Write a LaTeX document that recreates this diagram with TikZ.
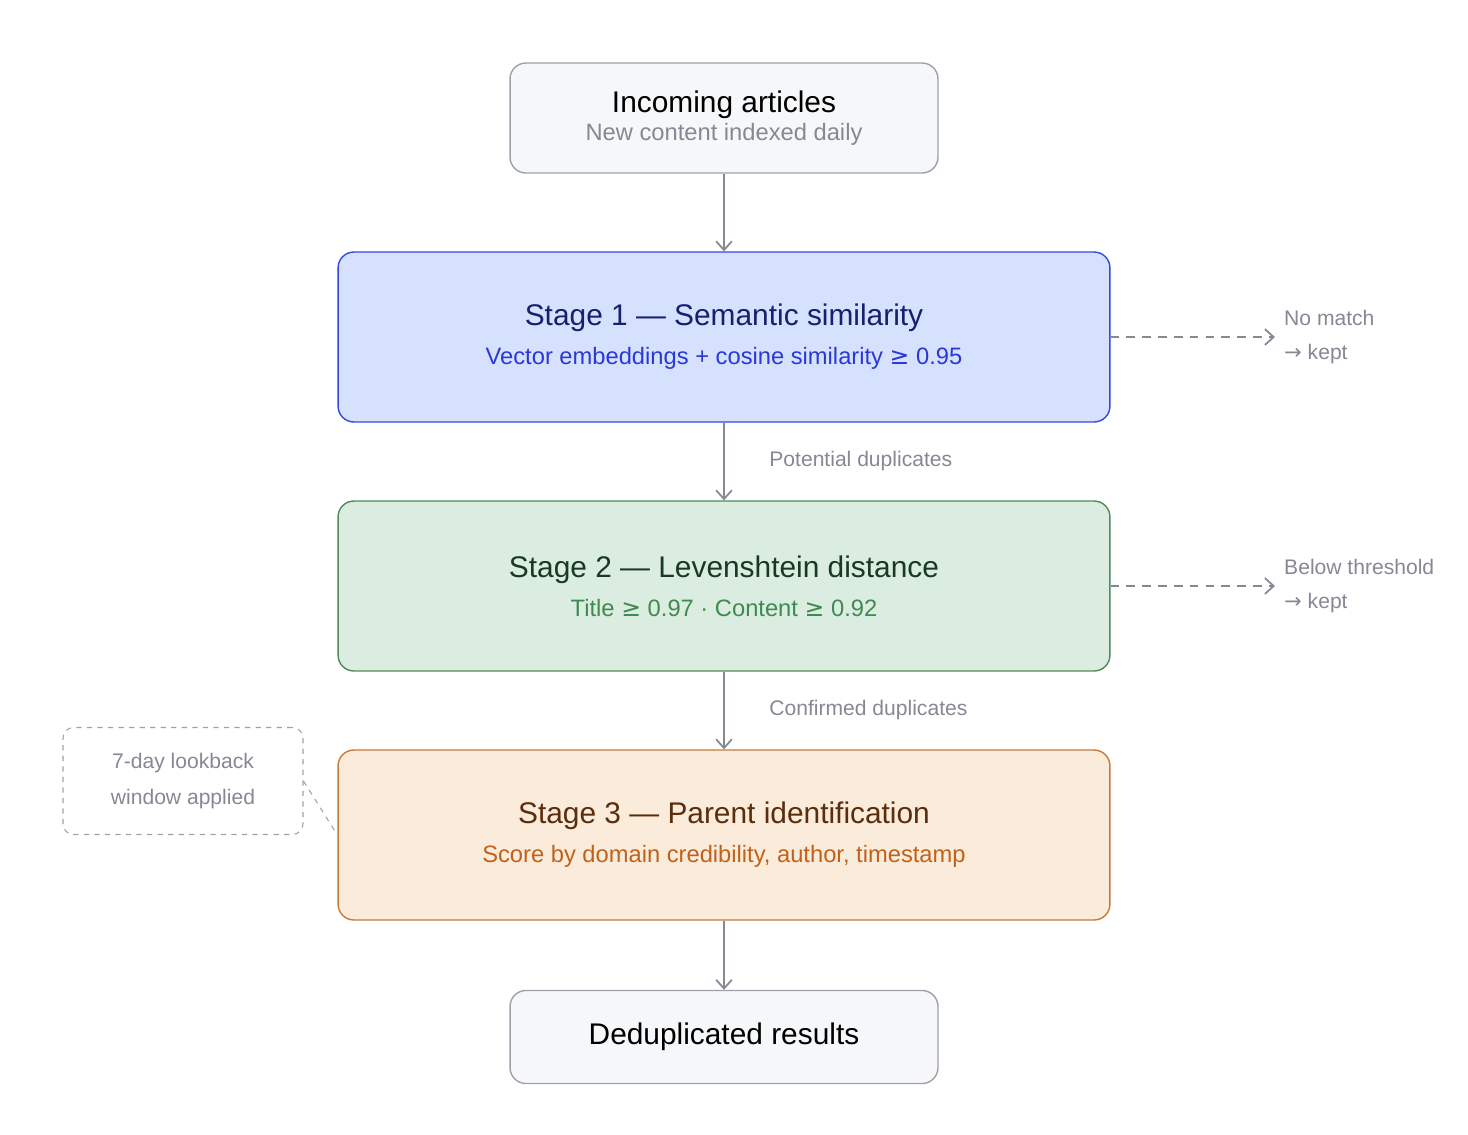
\documentclass[tikz,border=0pt]{standalone}
\usepackage{fontspec}
\setmainfont{Liberation Sans}
\newfontfamily\symfont{DejaVu Sans}
\usetikzlibrary{arrows.meta}
\newcommand{\gequ}{{\symfont ≥}}
\newcommand{\rarr}{{\symfont →}}

\definecolor{graybd}{HTML}{A0A0AA}
\definecolor{grayfill}{HTML}{F6F7F9}
\definecolor{graytxt}{HTML}{868894}
\definecolor{bluebd}{HTML}{3448E0}
\definecolor{bluefill}{HTML}{D6E2FD}
\definecolor{bluetitle}{HTML}{15206E}
\definecolor{bluetxt}{HTML}{2A38D8}
\definecolor{greenbd}{HTML}{4E8A5A}
\definecolor{greenfill}{HTML}{DAEDE0}
\definecolor{greentitle}{HTML}{193A22}
\definecolor{greentxt}{HTML}{3E8A50}
\definecolor{orangebd}{HTML}{C87A3C}
\definecolor{orangefill}{HTML}{FAEBDA}
\definecolor{orangetitle}{HTML}{5A2E0C}
\definecolor{orangetxt}{HTML}{C0621C}

\tikzset{
  box/.style={draw, rounded corners=9pt, line width=0.8pt, align=center},
  endbox/.style={box, draw=graybd, fill=grayfill, minimum width=8.56cm, minimum height=2.2cm},
  stage/.style={box, minimum width=15.44cm, minimum height=3.4cm},
  flow/.style={draw=graytxt, line width=1pt, -{Straight Barb[length=5pt,width=9pt]}},
  side/.style={flow, dashed, dash pattern=on 5pt off 4pt},
  lbl/.style={text=graytxt, font=\fontsize{12}{14}\selectfont, anchor=west},
}

\begin{document}
\begin{tikzpicture}[x=0.02cm,y=-0.02cm]
  \useasboundingbox (0,0) rectangle (1468,1134);

  % main boxes
  \node[endbox] (in) at (724,118) {{\fontsize{17}{20}\selectfont Incoming articles}\\[2pt]
    {\fontsize{13.5}{16}\selectfont\color{graytxt}New content indexed daily}};
  \node[stage, draw=bluebd, fill=bluefill] (s1) at (724,337)
    {{\fontsize{17}{20}\selectfont\color{bluetitle}Stage 1 — Semantic similarity}\\[8pt]
     {\fontsize{13.5}{16}\selectfont\color{bluetxt}Vector embeddings + cosine similarity \gequ\ 0.95}};
  \node[stage, draw=greenbd, fill=greenfill] (s2) at (724,586)
    {{\fontsize{17}{20}\selectfont\color{greentitle}Stage 2 — Levenshtein distance}\\[8pt]
     {\fontsize{13.5}{16}\selectfont\color{greentxt}Title \gequ\ 0.97 · Content \gequ\ 0.92}};
  \node[stage, draw=orangebd, fill=orangefill] (s3) at (724,835)
    {{\fontsize{17}{20}\selectfont\color{orangetitle}Stage 3 — Parent identification}\\[8pt]
     {\fontsize{13.5}{16}\selectfont\color{orangetxt}Score by domain credibility, author, timestamp}};
  \node[endbox, minimum height=1.86cm] (out) at (724,1037)
    {\fontsize{17}{20}\selectfont Deduplicated results};

  % side note
  \node[box, draw=graybd, dashed, line width=0.6pt, rounded corners=6pt,
        minimum width=4.8cm, minimum height=2.14cm, text=graytxt,
        font=\fontsize{12}{20}\selectfont] (note) at (183,781) {7-day lookback\\window applied};
  \draw[graybd, dashed, line width=0.6pt] (note.east) -- (s3.west);

  % flow
  \draw[flow] (in) -- (s1);
  \draw[flow] (s1) -- node[lbl, xshift=22pt] {Potential duplicates} (s2);
  \draw[flow] (s2) -- node[lbl, xshift=22pt] {Confirmed duplicates} (s3);
  \draw[flow] (s3) -- (out);

  % rejected branches
  \coordinate (k1) at (1275,337);
  \coordinate (k2) at (1275,586);
  \draw[side] (s1.east) -- (k1);
  \draw[side] (s2.east) -- (k2);
  \node[lbl, align=left, anchor=west, font=\fontsize{12}{19}\selectfont] (t1) at (1278,337) {No match\\\rarr\ kept};
  \node[lbl, align=left, anchor=west, font=\fontsize{12}{19}\selectfont] (t2) at (1278,586) {Below threshold\\\rarr\ kept};
\end{tikzpicture}
\end{document}
